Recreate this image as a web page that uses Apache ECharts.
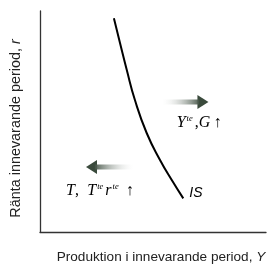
<!DOCTYPE html>
<html>
<head>
<meta charset="utf-8">
<script src="https://cdn.jsdelivr.net/npm/echarts@6/dist/echarts.min.js"></script>
<style>
  html, body { margin: 0; padding: 0; background: #fff; }
  #main { width: 270px; height: 269px; }
</style>
</head>
<body>
<div id="main"></div>
<script>
// IS-kurvan (axlar 0..100, inga skalor visas)
var isCurveX = [32.7, 35.4, 38.4, 42.0, 47.2, 53.1, 58.3, 63.4];
var isCurveY = [96.7, 85.5, 73.3, 59.7, 44.8, 32.6, 23.5, 15.2];

// pilar: skaft [start, slut], spets, höjd
var rightArrowShaft = [54.4, 70.4];
var rightArrowTip = 72.1;
var rightArrowY = 58.8;
var leftArrowShaft = [41.2, 24.3];
var leftArrowTip = 22.8;
var leftArrowY = 29.4;

// etiketter [x, y]
var labelRight = [70.4, 49.3];
var labelLeft = [26.5, 18.6];
var labelIS = [69.0, 17.6];

var xName = "Produktion i innevarande period, {it|Y}";
var yName = "Ränta innevarande period, {it|r}";

var chart = echarts.init(document.getElementById("main"));

var arrowDark = "#3a4a3c";

function pairs(xs, ys) {
  return xs.map(function (x, i) {
    return [x, ys[i]];
  });
}

var serifRich = {
  i: { fontFamily: "Liberation Serif", fontStyle: "italic", fontSize: 16, color: "#000" },
  s: { fontFamily: "Liberation Serif", fontStyle: "italic", fontSize: 8.5, color: "#000", verticalAlign: "top", padding: [0, 2, 9, 1] },
  n: { fontFamily: "Liberation Serif", fontSize: 16, color: "#000" },
  g: { fontSize: 16, width: 5 },
};

var nameStyle = {
  fontFamily: "Liberation Sans",
  color: "#222",
};

var option = {
  animation: false,
  grid: { left: 40, right: 4, top: 11, bottom: 37 },
  xAxis: {
    type: "value",
    min: 0,
    max: 100,
    name: xName,
    nameLocation: "middle",
    nameGap: 18,
    nameTextStyle: Object.assign({
      fontSize: 13.6,
      padding: [0, 0, 0, 16],
      rich: { it: { fontFamily: "Liberation Sans", fontStyle: "italic", fontSize: 13.6, color: "#222" } },
    }, nameStyle),
    axisLine: { lineStyle: { color: "#333", width: 1.3 } },
    axisTick: { show: false },
    axisLabel: { show: false },
    splitLine: { show: false },
  },
  yAxis: {
    type: "value",
    min: 0,
    max: 100,
    name: yName,
    nameLocation: "middle",
    nameGap: 17,
    nameTextStyle: Object.assign({
      fontSize: 14.4,
      padding: [0, 14, 0, 0],
      rich: { it: { fontFamily: "Liberation Sans", fontStyle: "italic", fontSize: 14.4, color: "#222" } },
    }, nameStyle),
    axisLine: { show: true, lineStyle: { color: "#333", width: 1.3 } },
    axisTick: { show: false },
    axisLabel: { show: false },
    splitLine: { show: false },
  },
  series: [
    {
      name: "IS",
      type: "line",
      smooth: true,
      showSymbol: false,
      data: pairs(isCurveX, isCurveY),
      lineStyle: { color: "#000", width: 2 },
    },
    // pil höger
    {
      type: "line",
      showSymbol: false,
      data: [
        [rightArrowShaft[0], rightArrowY],
        [rightArrowShaft[1], rightArrowY],
      ],
      lineStyle: {
        width: 5,
        cap: "butt",
        color: new echarts.graphic.LinearGradient(0, 0, 1, 0, [
          { offset: 0, color: "rgba(255,255,255,0)" },
          { offset: 1, color: arrowDark },
        ]),
      },
    },
    {
      type: "scatter",
      symbol: "triangle",
      symbolSize: [14, 11],
      symbolRotate: -90,
      data: [[rightArrowTip, rightArrowY]],
      itemStyle: { color: arrowDark, opacity: 1 },
    },
    // pil vänster
    {
      type: "line",
      showSymbol: false,
      data: [
        [leftArrowShaft[1], leftArrowY],
        [leftArrowShaft[0], leftArrowY],
      ],
      lineStyle: {
        width: 5,
        cap: "butt",
        color: new echarts.graphic.LinearGradient(0, 0, 1, 0, [
          { offset: 0, color: arrowDark },
          { offset: 1, color: "rgba(255,255,255,0)" },
        ]),
      },
    },
    {
      type: "scatter",
      symbol: "triangle",
      symbolSize: [14, 11],
      symbolRotate: 90,
      data: [[leftArrowTip, leftArrowY]],
      itemStyle: { color: arrowDark, opacity: 1 },
    },
    // etiketter
    {
      type: "scatter",
      symbolSize: 0,
      data: [labelRight],
      itemStyle: { opacity: 1 },
      label: {
        show: true,
        position: "inside",
        formatter: "{i|Y}{s|te}{n|,}{i|G} {n|↑}",
        rich: serifRich,
      },
    },
    {
      type: "scatter",
      symbolSize: 0,
      data: [labelLeft],
      itemStyle: { opacity: 1 },
      label: {
        show: true,
        position: "inside",
        formatter: "{i|T}{n|,}{g|} {i|T}{s|te}{i|r}{s|te}{g|}{n|↑}",
        rich: serifRich,
      },
    },
    {
      type: "scatter",
      symbolSize: 0,
      data: [labelIS],
      itemStyle: { opacity: 1 },
      label: {
        show: true,
        position: "inside",
        formatter: "IS",
        fontFamily: "Liberation Sans",
        fontStyle: "italic",
        fontSize: 14,
        color: "#000",
      },
    },
  ],
};

chart.setOption(option);
</script>
</body>
</html>
